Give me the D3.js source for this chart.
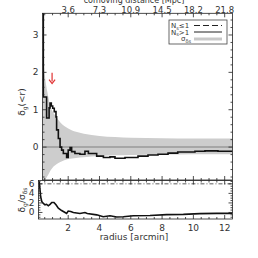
<!DOCTYPE html>
<html>
<head>
<meta charset="utf-8">
<script src="https://cdn.jsdelivr.net/npm/d3@7"></script>
<style>
  body { margin: 0; background: #fff; }
  text { font-family: "DejaVu Sans", sans-serif; fill: #333; }
</style>
</head>
<body>
<div id="chart"></div>
<script>
var width = 258,
    height = 258;

// top panel: delta_g(<r), step curve
var radius = [0.36, 0.41, 0.62, 0.78, 0.84, 0.92, 1.01, 1.11, 1.22, 1.26, 1.37, 1.48, 1.58, 1.69, 1.9, 2.0, 2.12, 2.22, 2.43, 2.75, 3.07, 3.29, 3.82, 4.25, 4.67, 4.99, 5.31, 5.63, 6.46, 7.1, 7.74, 8.38, 9.0, 10.1, 10.74, 11.57, 12.2, 12.5];
var delta = [4.2, 1.34, 0.78, 1.05, 1.18, 1.1, 1.04, 0.95, 0.81, 0.46, 0.23, 0.0, -0.08, -0.17, -0.28, -0.08, -0.01, -0.12, -0.17, -0.19, -0.11, -0.17, -0.24, -0.28, -0.26, -0.3, -0.3, -0.28, -0.24, -0.21, -0.19, -0.16, -0.13, -0.11, -0.1, -0.11, -0.11, -0.11];

// sigma band
var bandR = [0.36, 0.5, 0.75, 0.85, 1.0, 1.25, 1.5, 2, 2.5, 3, 4, 5, 6, 8, 10, 12.5];
var bandUp = [2.6, 1.95, 1.3, 1.1, 0.95, 0.8, 0.66, 0.5, 0.41, 0.36, 0.3, 0.27, 0.25, 0.24, 0.23, 0.23];
var bandLo = [-1.0, -0.9, -0.72, -0.64, -0.55, -0.46, -0.4, -0.32, -0.29, -0.27, -0.24, -0.22, -0.21, -0.2, -0.19, -0.19];

// bottom panel: delta_g / sigma
var radius2 = [0.15, 0.2, 0.24, 0.31, 0.41, 0.52, 0.62, 0.73, 0.84, 0.95, 1.09, 1.22, 1.37, 1.58, 1.8, 1.9, 2.0, 2.16, 2.33, 2.75, 3.07, 3.22, 3.82, 4.24, 4.67, 5.1, 5.52, 6.16, 7.23, 8.29, 9.36, 10.42, 11.49, 12.47];
var ratio = [6.5, 4.7, 3.3, 2.3, 1.9, 1.6, 1.7, 1.4, 1.7, 2.1, 2.1, 1.6, 0.9, 0.4, 0.0, -0.2, 0.3, 0.2, 0.0, -0.2, 0.0, -0.2, -0.5, -0.9, -0.7, -0.95, -0.9, -0.7, -0.65, -0.45, -0.4, -0.25, -0.2, -0.2];

var xMajor = [2, 4, 6, 8, 10, 12];
var comovingLabels = ["3.6", "7.3", "10.9", "14.5", "18.2", "21.8"];
var yTopMajor = [0, 1, 2, 3];
var yBotMajor = [0, 2, 4, 6];
var thresholdLine = 6;

var x = d3.scaleLinear().domain([0, 12.5]).range([36.9, 232.5]);
var yTop = d3.scaleLinear().domain([-0.88, 3.58]).range([180, 13.3]);
var yBot = d3.scaleLinear().domain([-1.37, 6.7]).range([219, 180.5]);

var topLeft = x(0.36), botLeft = x(0.1), right = x(12.5);

var svg = d3.select("#chart").append("svg")
    .attr("width", width)
    .attr("height", height);

svg.append("clipPath").attr("id", "clipTop").append("rect")
    .attr("x", topLeft).attr("y", yTop.range()[1])
    .attr("width", right - topLeft).attr("height", yTop.range()[0] - yTop.range()[1]);
svg.append("clipPath").attr("id", "clipBot").append("rect")
    .attr("x", botLeft).attr("y", yBot.range()[1])
    .attr("width", right - botLeft).attr("height", yBot.range()[0] - yBot.range()[1]);

// ---- top panel
var gTop = svg.append("g").attr("clip-path", "url(#clipTop)");

var band = bandR.map(function (r, i) { return {r: r, up: bandUp[i], lo: bandLo[i]}; });
gTop.append("path")
    .datum(band)
    .attr("fill", "#cdcdcd")
    .attr("d", d3.area()
        .x(function (d) { return x(d.r); })
        .y0(function (d) { return yTop(d.lo); })
        .y1(function (d) { return yTop(d.up); })
        .curve(d3.curveMonotoneX));

gTop.append("line")
    .attr("x1", topLeft).attr("x2", right)
    .attr("y1", yTop(0)).attr("y2", yTop(0))
    .attr("stroke", "#999").attr("stroke-width", 1.5);

gTop.append("path")
    .datum(radius.map(function (r, i) { return [r, delta[i]]; }))
    .attr("fill", "none")
    .attr("stroke", "#111")
    .attr("stroke-width", 1.6)
    .attr("d", d3.line()
        .x(function (d) { return x(d[0]); })
        .y(function (d) { return yTop(d[1]); })
        .curve(d3.curveStepAfter));

// ---- bottom panel
var gBot = svg.append("g").attr("clip-path", "url(#clipBot)");

gBot.append("line")
    .attr("x1", botLeft).attr("x2", right)
    .attr("y1", yBot(thresholdLine)).attr("y2", yBot(thresholdLine))
    .attr("stroke", "#333").attr("stroke-width", 0.8)
    .attr("stroke-dasharray", "4,2,1,2");

gBot.append("path")
    .datum(radius2.map(function (r, i) { return [r, ratio[i]]; }))
    .attr("fill", "none")
    .attr("stroke", "#111")
    .attr("stroke-width", 1.6)
    .attr("d", d3.line()
        .x(function (d) { return x(d[0]); })
        .y(function (d) { return yBot(d[1]); }));

// ---- axes
function minorRange(a, b, step) {
    return d3.range(a, b + 1e-9, step);
}

function drawAxes(yScale, left, majorY, minorStep, showTopLabels, showBottomLabels) {
    var y0 = yScale.range()[0], y1 = yScale.range()[1];
    var xMinor = minorRange(0.5, 12, 0.5).filter(function (v) { return x(v) > left; });
    var yMinor = minorRange(Math.ceil(yScale.domain()[0] / minorStep) * minorStep, yScale.domain()[1], minorStep);
    var g = svg.append("g").attr("stroke", "#222").attr("stroke-width", 0.8);

    // x ticks bottom & top
    [[y0, -1], [y1, 1]].forEach(function (p) {
        g.selectAll(null).data(xMinor).enter().append("line")
            .attr("x1", function (d) { return x(d); }).attr("x2", function (d) { return x(d); })
            .attr("y1", p[0]).attr("y2", function (d) {
                return p[0] + p[1] * (xMajor.indexOf(d) >= 0 ? 4 : 2);
            });
    });
    // y ticks left & right
    [[left, 1], [right, -1]].forEach(function (p) {
        g.selectAll(null).data(yMinor).enter().append("line")
            .attr("y1", function (d) { return yScale(d); }).attr("y2", function (d) { return yScale(d); })
            .attr("x1", p[0]).attr("x2", function (d) {
                var isMajor = majorY.some(function (m) { return Math.abs(m - d) < 1e-6; });
                return p[0] + p[1] * (isMajor ? 4 : 2);
            });
    });
    g.append("rect")
        .attr("x", left).attr("y", y1)
        .attr("width", right - left).attr("height", y0 - y1)
        .attr("fill", "none");

    svg.selectAll(null).data(majorY).enter().append("text")
        .attr("x", left - 4)
        .attr("y", function (d) { return yScale(d) + 3; })
        .attr("text-anchor", "end")
        .attr("font-size", 9)
        .text(function (d) { return d; });

    if (showTopLabels) {
        svg.selectAll(null).data(xMajor).enter().append("text")
            .attr("x", function (d) { return x(d); })
            .attr("y", 12.5)
            .attr("text-anchor", "middle")
            .attr("font-size", 8.5)
            .text(function (d, i) { return comovingLabels[i]; });
    }
    if (showBottomLabels) {
        svg.selectAll(null).data(xMajor).enter().append("text")
            .attr("x", function (d) { return x(d); })
            .attr("y", 231)
            .attr("text-anchor", "middle")
            .attr("font-size", 9)
            .text(function (d) { return d; });
    }
}

drawAxes(yTop, topLeft, yTopMajor, 0.2, true, false);
drawAxes(yBot, botLeft, yBotMajor, 0.5, false, true);

// titles (top one is partly off the page, as in the original)
svg.append("text")
    .attr("x", 134).attr("y", 2.5)
    .attr("text-anchor", "middle").attr("font-size", 8)
    .text("comoving distance [Mpc]");

svg.append("text")
    .attr("x", 134).attr("y", 240)
    .attr("text-anchor", "middle").attr("font-size", 9)
    .text("radius [arcmin]");

var yl1 = svg.append("text")
    .attr("transform", "translate(25,102) rotate(-90)")
    .attr("text-anchor", "middle").attr("font-size", 9);
yl1.append("tspan").text("δ");
yl1.append("tspan").attr("font-size", 6).attr("dy", 2).text("g");
yl1.append("tspan").attr("dy", -2).text("(<r)");

var yl2 = svg.append("text")
    .attr("transform", "translate(25,200) rotate(-90)")
    .attr("text-anchor", "middle").attr("font-size", 9);
yl2.append("tspan").text("δ");
yl2.append("tspan").attr("font-size", 6).attr("dy", 2).text("g");
yl2.append("tspan").attr("dy", -2).text("/σ");
yl2.append("tspan").attr("font-size", 6).attr("dy", 2).text("δs");

// legend
var legend = svg.append("g");
legend.append("rect")
    .attr("x", 169).attr("y", 20).attr("width", 58).attr("height", 24)
    .attr("fill", "#fff").attr("stroke", "#444").attr("stroke-width", 0.8);

var legendRows = [
    {y: 25.5, dash: "6,3", color: "#222", w: 1},
    {y: 32, dash: null, color: "#222", w: 1},
    {y: 39, dash: null, color: "#c8c8c8", w: 3}
];
legendRows.forEach(function (row) {
    legend.append("line")
        .attr("x1", 194).attr("x2", 222)
        .attr("y1", row.y).attr("y2", row.y)
        .attr("stroke", row.color).attr("stroke-width", row.w)
        .attr("stroke-dasharray", row.dash);
});

var t1 = legend.append("text").attr("x", 171).attr("y", 28).attr("font-size", 7).attr("fill", "#555");
t1.append("tspan").text("N");
t1.append("tspan").attr("font-size", 5).attr("dy", 1.5).text("s");
t1.append("tspan").attr("dy", -1.5).text("≤1");
var t2 = legend.append("text").attr("x", 171).attr("y", 34.5).attr("font-size", 7).attr("fill", "#555");
t2.append("tspan").text("N");
t2.append("tspan").attr("font-size", 5).attr("dy", 1.5).text("s");
t2.append("tspan").attr("dy", -1.5).text(">1");
var t3 = legend.append("text").attr("x", 181).attr("y", 41).attr("font-size", 7).attr("fill", "#555");
t3.append("tspan").text("σ");
t3.append("tspan").attr("font-size", 5).attr("dy", 1.5).text("δs");

// red arrow
var arrowR = 0.97, arrowTop = 1.99, arrowTip = 1.7;
svg.append("line")
    .attr("x1", x(arrowR)).attr("x2", x(arrowR))
    .attr("y1", yTop(arrowTop)).attr("y2", yTop(arrowTip) - 2)
    .attr("stroke", "#e03030").attr("stroke-width", 1.2);
svg.append("path")
    .attr("d", d3.line()([[x(arrowR) - 3, yTop(arrowTip) - 4], [x(arrowR), yTop(arrowTip)], [x(arrowR) + 3, yTop(arrowTip) - 4]]))
    .attr("fill", "none")
    .attr("stroke", "#e03030").attr("stroke-width", 1.2);
</script>
</body>
</html>
